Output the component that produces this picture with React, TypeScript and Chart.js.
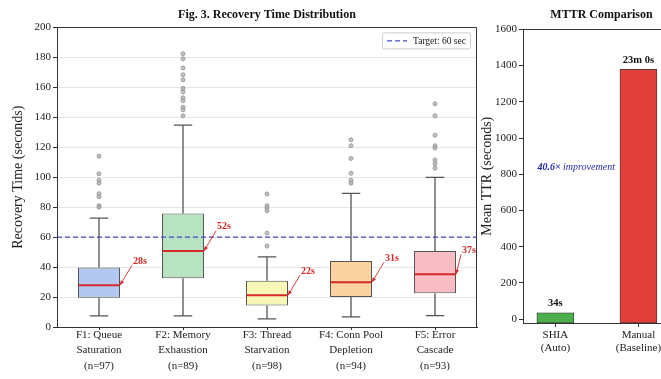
import React, { useEffect, useRef } from "react";
import { Chart, registerables } from "chart.js";

Chart.register(...registerables);

const FONT = '"Liberation Serif", "Times New Roman", serif';
Chart.defaults.font.family = FONT;

// ---------- Left panel data: recovery time distribution ----------
const failureModes = [
  ["F1: Queue", "Saturation"],
  ["F2: Memory", "Exhaustion"],
  ["F3: Thread", "Starvation"],
  ["F4: Conn Pool", "Depletion"],
  ["F5: Error", "Cascade"],
];
const sampleSizes = [97, 89, 98, 94, 93];
const whiskerLow = [7.4, 7.4, 5.4, 6.7, 7.6];
const q1Values = [19.6, 32.6, 14.3, 20.1, 22.5];
const medianValues = [27.9, 50.8, 21.2, 29.9, 35.2];
const q3Values = [39.7, 75.8, 30.8, 44.1, 50.8];
const whiskerHigh = [72.7, 134.7, 46.8, 89.2, 99.9];
const outlierValues = [
  [114, 102.3, 98, 96, 89, 87, 81, 80],
  [182.4, 179, 173, 168.4, 165, 159.4, 157, 153, 151, 146.7, 145, 141],
  [88.8, 81, 79.4, 77.6, 62.7, 54],
  [125, 121, 112.5, 102.6, 98, 96],
  [149, 141, 128, 121, 119.5, 111.5, 109, 106],
];
const labelledSeconds = [28, 52, 22, 31, 37];
const boxColors = ["#b4c7f1", "#b7e3c2", "#f9f7b6", "#fbd3a0", "#f7bcc4"];
const targetSeconds = 60;
const targetLabel = "Target: 60 sec";
const recoveryTicks = [0, 20, 40, 60, 80, 100, 120, 140, 160, 180, 200];

// ---------- Right panel data: MTTR comparison ----------
const mttrCategories = [
  ["SHIA", "(Auto)"],
  ["Manual", "(Baseline)"],
];
const mttrSeconds = [34, 1380];
const mttrColors = ["#4cae4c", "#e2403b"];
const mttrTicks = [0, 200, 400, 600, 800, 1000, 1200, 1400, 1600];
const mttrAxisMin = -22;
const mttrAxisMax = 1600;
const improvementLabelX = 0.25;
const improvementLabelY = 840;

const fmtDuration = (s: number) =>
  s >= 60 ? `${Math.floor(s / 60)}m ${Math.round(s % 60)}s` : `${Math.round(s)}s`;

const framePlugin = {
  id: "frame",
  afterDraw(chart: any) {
    const { ctx, chartArea: a } = chart;
    ctx.save();
    ctx.strokeStyle = "#333";
    ctx.lineWidth = 1;
    ctx.beginPath();
    const t = Math.round(a.top) + 0.5;
    const r = Math.round(a.right) - 0.5;
    ctx.moveTo(a.left, t);
    ctx.lineTo(r, t);
    ctx.lineTo(r, a.bottom);
    ctx.stroke();
    ctx.restore();
  },
};

const boxPlugin = {
  id: "boxWhiskers",
  afterDatasetDraw(chart: any, args: any) {
    if (args.index !== 0) return;
    const { ctx } = chart;
    const ys = chart.scales.y;
    ctx.save();
    args.meta.data.forEach((bar: any, i: number) => {
      const x = bar.x;
      const half = bar.width / 2;
      const cap = bar.width * 0.22;
      const yHi = ys.getPixelForValue(whiskerHigh[i]);
      const yQ3 = ys.getPixelForValue(q3Values[i]);
      const yQ1 = ys.getPixelForValue(q1Values[i]);
      const yLo = ys.getPixelForValue(whiskerLow[i]);
      ctx.strokeStyle = "#555";
      ctx.lineWidth = 1.3;
      ctx.beginPath();
      ctx.moveTo(x, yQ3);
      ctx.lineTo(x, yHi);
      ctx.moveTo(x - cap, yHi);
      ctx.lineTo(x + cap, yHi);
      ctx.moveTo(x, yQ1);
      ctx.lineTo(x, yLo);
      ctx.moveTo(x - cap, yLo);
      ctx.lineTo(x + cap, yLo);
      ctx.stroke();
      const yMed = ys.getPixelForValue(medianValues[i]);
      ctx.strokeStyle = "#d42a2a";
      ctx.lineWidth = 2;
      ctx.beginPath();
      ctx.moveTo(x - half + 0.5, yMed);
      ctx.lineTo(x + half - 0.5, yMed);
      ctx.stroke();
    });
    ctx.restore();
  },
};

const annotatePlugin = {
  id: "annotate",
  afterDatasetsDraw(chart: any) {
    const { ctx, chartArea: a } = chart;
    const ys = chart.scales.y;
    const meta = chart.getDatasetMeta(0);
    ctx.save();
    // median call-outs
    ctx.font = `bold 10px ${FONT}`;
    ctx.textBaseline = "middle";
    ctx.textAlign = "left";
    meta.data.forEach((bar: any, i: number) => {
      const px = bar.x + bar.width / 2;
      const py = ys.getPixelForValue(medianValues[i]);
      const text = `${labelledSeconds[i]}s`;
      const w = ctx.measureText(text).width;
      let tx = px + 13;
      if (tx + w > a.right - 1) tx = a.right - 1 - w;
      const ty = py - 24;
      ctx.fillStyle = "#d42a2a";
      ctx.fillText(text, tx, ty);
      const sx = tx - 1;
      const sy = ty + 4;
      ctx.strokeStyle = "#d42a2a";
      ctx.lineWidth = 0.9;
      ctx.beginPath();
      ctx.moveTo(sx, sy);
      ctx.lineTo(px, py);
      ctx.stroke();
      const ang = Math.atan2(py - sy, px - sx);
      const hl = 5;
      ctx.beginPath();
      ctx.moveTo(px, py);
      ctx.lineTo(px - hl * Math.cos(ang - 0.4), py - hl * Math.sin(ang - 0.4));
      ctx.lineTo(px - hl * Math.cos(ang + 0.4), py - hl * Math.sin(ang + 0.4));
      ctx.closePath();
      ctx.fill();
    });
    // legend box
    const ds = chart.data.datasets[1];
    ctx.font = `9.5px ${FONT}`;
    const tw = ctx.measureText(ds.label).width;
    const boxW = 5 + 20 + 6 + tw + 4;
    const boxH = 16;
    const bx = a.right - 7 - boxW;
    const by = a.top + 5;
    ctx.fillStyle = "rgba(255,255,255,0.9)";
    ctx.strokeStyle = "#cccccc";
    ctx.lineWidth = 1;
    ctx.beginPath();
    ctx.roundRect(bx + 0.5, by + 0.5, boxW, boxH, 2);
    ctx.fill();
    ctx.stroke();
    ctx.strokeStyle = ds.borderColor;
    ctx.lineWidth = ds.borderWidth;
    ctx.setLineDash(ds.borderDash);
    ctx.beginPath();
    ctx.moveTo(bx + 5, by + boxH / 2 + 0.5);
    ctx.lineTo(bx + 25, by + boxH / 2 + 0.5);
    ctx.stroke();
    ctx.setLineDash([]);
    ctx.fillStyle = "#222";
    ctx.textBaseline = "middle";
    ctx.fillText(ds.label, bx + 31, by + boxH / 2 + 1);
    ctx.restore();
  },
};

const mttrPlugin = {
  id: "mttrLabels",
  afterDatasetsDraw(chart: any) {
    const { ctx } = chart;
    const meta = chart.getDatasetMeta(0);
    ctx.save();
    ctx.font = `bold 10.5px ${FONT}`;
    ctx.fillStyle = "#111";
    ctx.textAlign = "center";
    ctx.textBaseline = "bottom";
    meta.data.forEach((bar: any, i: number) => {
      ctx.fillText(fmtDuration(mttrSeconds[i]), bar.x, bar.y - 4);
    });
    const ratio = (mttrSeconds[1] / mttrSeconds[0]).toFixed(1);
    const part1 = `${ratio}×`;
    const part2 = " improvement";
    const cx = chart.scales.x.getPixelForValue(improvementLabelX);
    const cy = chart.scales.y.getPixelForValue(improvementLabelY);
    ctx.textAlign = "left";
    ctx.textBaseline = "middle";
    ctx.font = `italic bold 10px ${FONT}`;
    const w1 = ctx.measureText(part1).width;
    ctx.font = `italic 10px ${FONT}`;
    const w2 = ctx.measureText(part2).width;
    const x0 = cx - (w1 + w2) / 2;
    ctx.fillStyle = "#2a2ab0";
    ctx.font = `italic bold 10px ${FONT}`;
    ctx.fillText(part1, x0, cy);
    ctx.font = `italic 10px ${FONT}`;
    ctx.fillText(part2, x0 + w1, cy);
    ctx.restore();
  },
};

const tickFont = { family: FONT, size: 11 };

export default function App() {
  const leftRef = useRef<HTMLCanvasElement>(null);
  const rightRef = useRef<HTMLCanvasElement>(null);

  useEffect(() => {
    const left = new Chart(leftRef.current as HTMLCanvasElement, {
      type: "bar",
      data: {
        datasets: [
          {
            type: "bar",
            label: "IQR",
            data: failureModes.map((_, i) => ({ x: i + 1, y: [q1Values[i], q3Values[i]] })),
            backgroundColor: boxColors,
            borderColor: "#555",
            borderWidth: 1,
            borderSkipped: false,
            barPercentage: 0.5,
            categoryPercentage: 1,
            order: 3,
          } as any,
          {
            type: "line",
            label: targetLabel,
            data: [
              { x: 0.5, y: targetSeconds },
              { x: failureModes.length + 0.5, y: targetSeconds },
            ],
            borderColor: "rgb(72,72,200)",
            borderWidth: 1.4,
            borderDash: [5, 3],
            pointRadius: 0,
            order: 2,
          } as any,
          {
            type: "scatter",
            label: "Outliers",
            data: outlierValues.flatMap((arr, i) => arr.map((v) => ({ x: i + 1, y: v }))),
            pointRadius: 2,
            backgroundColor: "rgba(175,175,175,0.75)",
            borderColor: "#8f8f8f",
            borderWidth: 0.8,
            order: 1,
          } as any,
        ],
      },
      options: {
        animation: false,
        responsive: false,
        layout: { padding: { left: 0, right: 13, top: 0, bottom: 0 } },
        plugins: {
          legend: { display: false },
          tooltip: { enabled: false },
          title: {
            display: true,
            text: "Fig. 3. Recovery Time Distribution",
            fullSize: false,
            color: "#111",
            font: { family: FONT, size: 12, weight: "bold" },
            padding: { top: 8, bottom: 5 },
          },
        },
        scales: {
          x: {
            type: "linear",
            min: 0.5,
            max: failureModes.length + 0.5,
            offset: false,
            afterBuildTicks: (s: any) => {
              s.ticks = failureModes.map((_, i) => ({ value: i + 1 }));
            },
            afterFit: (s: any) => {
              s.height = 52;
            },
            ticks: {
              autoSkip: false,
              maxRotation: 0,
              color: "#222",
              padding: -3,
              font: { family: FONT, size: 11, lineHeight: 1.41 },
              callback: (_v: any, i: number) => [...failureModes[i], `(n=${sampleSizes[i]})`],
            },
            grid: { display: true, offset: false, drawOnChartArea: false, tickLength: 3, tickColor: "#333" },
            border: { display: true, color: "#333", width: 1 },
          },
          y: {
            min: 0,
            max: 200,
            afterBuildTicks: (s: any) => {
              s.ticks = recoveryTicks.map((v) => ({ value: v }));
            },
            afterFit: (s: any) => {
              s.width = 57;
            },
            ticks: { color: "#222", padding: 2, font: tickFont, callback: (v: any) => String(v) },
            grid: { color: "#e6e6e6", tickColor: "#333", tickLength: 4 },
            border: { display: true, color: "#333", width: 1 },
            title: {
              display: true,
              text: "Recovery Time (seconds)",
              color: "#222",
              font: { family: FONT, size: 14 },
              padding: { top: 10, bottom: 0 },
            },
          },
        },
      } as any,
      plugins: [boxPlugin, annotatePlugin, framePlugin],
    });

    const right = new Chart(rightRef.current as HTMLCanvasElement, {
      type: "bar",
      data: {
        datasets: [
          {
            label: "Mean TTR",
            data: mttrSeconds.map((v, i) => ({ x: i, y: v })),
            backgroundColor: mttrColors,
            borderColor: "#333",
            borderWidth: 0.8,
            borderSkipped: false,
            base: mttrAxisMin,
            barThickness: 37,
          } as any,
        ],
      },
      options: {
        animation: false,
        responsive: false,
        layout: { padding: 0 },
        plugins: {
          legend: { display: false },
          tooltip: { enabled: false },
          title: {
            display: true,
            text: "MTTR Comparison",
            fullSize: false,
            color: "#111",
            font: { family: FONT, size: 12, weight: "bold" },
            padding: { top: 8, bottom: 7 },
          },
        },
        scales: {
          x: {
            type: "linear",
            min: -0.39,
            max: 1.5,
            offset: false,
            afterBuildTicks: (s: any) => {
              s.ticks = mttrCategories.map((_, i) => ({ value: i }));
            },
            afterFit: (s: any) => {
              s.height = 56;
            },
            ticks: {
              autoSkip: false,
              maxRotation: 0,
              color: "#222",
              padding: 1.7,
              font: { family: FONT, size: 11, lineHeight: 1.15 },
              callback: (_v: any, i: number) => mttrCategories[i],
            },
            grid: { display: true, offset: false, drawOnChartArea: false, tickLength: 4, tickColor: "#333" },
            border: { display: true, color: "#333", width: 1 },
          },
          y: {
            min: mttrAxisMin,
            max: mttrAxisMax,
            afterBuildTicks: (s: any) => {
              s.ticks = mttrTicks.map((v) => ({ value: v }));
            },
            afterFit: (s: any) => {
              s.width = 43;
            },
            ticks: { color: "#222", padding: 2, font: tickFont, callback: (v: any) => String(v) },
            grid: { display: true, drawOnChartArea: false, tickColor: "#333", tickLength: 4 },
            border: { display: true, color: "#333", width: 1 },
            title: {
              display: true,
              text: "Mean TTR (seconds)",
              color: "#222",
              font: { family: FONT, size: 14, lineHeight: 1 },
              padding: { top: 0, bottom: 0 },
            },
          },
        },
      } as any,
      plugins: [mttrPlugin, framePlugin],
    });

    return () => {
      left.destroy();
      right.destroy();
    };
  }, []);

  return (
    <div
      style={{
        position: "fixed",
        left: 0,
        top: 0,
        width: 661,
        height: 379,
        overflow: "hidden",
        background: "#fff",
      }}
    >
      <canvas
        ref={leftRef}
        width={490}
        height={379}
        style={{ position: "absolute", left: 0, top: 0, width: 490, height: 379 }}
      />
      <canvas
        ref={rightRef}
        width={200}
        height={379}
        style={{ position: "absolute", left: 480, top: 0, width: 200, height: 379 }}
      />
    </div>
  );
}
